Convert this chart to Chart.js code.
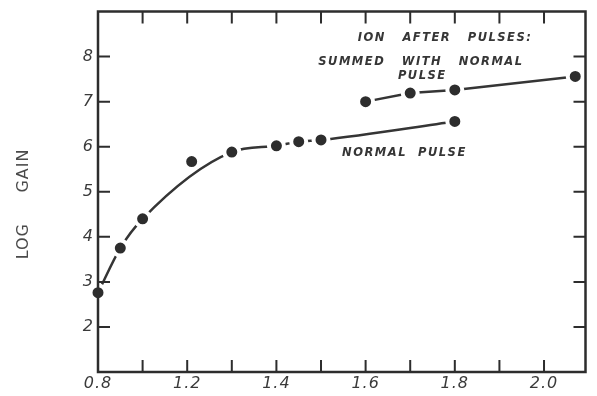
<!DOCTYPE html>
<html>
<head>
<meta charset="utf-8">
<script src="https://cdn.jsdelivr.net/npm/chart.js@4.4.0/dist/chart.umd.min.js"></script>
<style>
  html, body { margin: 0; padding: 0; background: #fff; }
  canvas { display: block; }
</style>
</head>
<body>
<canvas id="chart" width="597" height="396"></canvas>
<script>
// normal pulse (lower curve)
const normalX = [0.8, 0.9, 1.0, 1.21, 1.3, 1.4, 1.45, 1.5, 1.8];
const normalY = [2.76, 3.75, 4.40, 5.67, 5.88, 6.02, 6.11, 6.15, 6.56];
// hand-drawn curve leaves out the 1.21 point
const normalOnCurve = [true, true, true, false, true, true, true, true, true];

// ion after pulses summed with normal pulse (upper curve)
const ionX = [1.6, 1.7, 1.8, 2.07];
const ionY = [7.0, 7.19, 7.26, 7.56];

const xTickValues = [0.8, 1.0, 1.2, 1.3, 1.4, 1.5, 1.6, 1.7, 1.8, 1.9, 2.0];
const xTickLabels = ['0.8', '1.2', '1.4', '1.6', '1.8', '2.0'];
const yTickValues = [2, 3, 4, 5, 6, 7, 8];

const ink = '#2d2d2d';

// the x axis is squeezed between 0.8 and 1.2 (0.4 takes the room of 0.2)
const warp = v => v < 1.2 ? 1.0 + (v - 0.8) / 2 : v;
const unwarp = u => u < 1.2 ? 0.8 + (u - 1.0) * 2 : u;

class BrokenLinearScale extends Chart.LinearScale {
  buildTicks() {
    return xTickValues.map(v => ({ value: v }));
  }
  getPixelForValue(value) {
    const a = warp(this.min), b = warp(this.max);
    return this.getPixelForDecimal((warp(value) - a) / (b - a));
  }
  getValueForPixel(pixel) {
    const a = warp(this.min), b = warp(this.max);
    return unwarp(a + this.getDecimalForPixel(pixel) * (b - a));
  }
}
BrokenLinearScale.id = 'brokenLinear';
BrokenLinearScale.defaults = {};
Chart.register(BrokenLinearScale);

const toPoints = (xs, ys) => xs.map((x, i) => ({ x: x, y: ys[i] }));

const notes = [
  { text: 'ION   AFTER   PULSES:', x: 1.778, y: 8.41 },
  { text: 'SUMMED   WITH   NORMAL', x: 1.724, y: 7.87 },
  { text: 'PULSE', x: 1.727, y: 7.56 },
  { text: 'NORMAL  PULSE', x: 1.687, y: 5.86 }
];

const framePlugin = {
  id: 'frame',
  beforeDraw(chart) {
    chart.ctx.letterSpacing = '1px';
  },
  afterDatasetsDraw(chart) {
    const { ctx, chartArea: a, scales: { x, y } } = chart;
    ctx.save();
    ctx.strokeStyle = ink;
    ctx.lineWidth = 2.5;
    ctx.strokeRect(a.left, a.top, a.right - a.left, a.bottom - a.top);

    // inward tick marks on all four sides
    ctx.lineWidth = 2;
    const len = 12;
    ctx.beginPath();
    xTickValues.forEach(v => {
      const px = x.getPixelForValue(v);
      if (px <= a.left + 1) return;
      ctx.moveTo(px, a.bottom); ctx.lineTo(px, a.bottom - len);
      ctx.moveTo(px, a.top); ctx.lineTo(px, a.top + len);
    });
    yTickValues.forEach(v => {
      const py = y.getPixelForValue(v);
      ctx.moveTo(a.left, py); ctx.lineTo(a.left + len, py);
      ctx.moveTo(a.right, py); ctx.lineTo(a.right - len, py);
    });
    ctx.stroke();

    // lettering
    ctx.fillStyle = '#363636';
    ctx.font = 'italic bold 11.5px "DejaVu Sans"';
    ctx.letterSpacing = '1.5px';
    ctx.textAlign = 'center';
    ctx.textBaseline = 'middle';
    notes.forEach(n => {
      ctx.fillText(n.text, x.getPixelForValue(n.x), y.getPixelForValue(n.y));
    });
    ctx.restore();
  }
};

Chart.defaults.font.family = '"DejaVu Sans"';
Chart.defaults.color = ink;

new Chart(document.getElementById('chart'), {
  type: 'line',
  data: {
    datasets: [
      {
        label: 'points',
        type: 'scatter',
        data: toPoints(normalX, normalY).concat(toPoints(ionX, ionY)),
        showLine: false,
        pointRadius: 7.5,
        pointBorderWidth: 4,
        pointBackgroundColor: ink,
        pointBorderColor: '#ffffff',
        clip: false,
        order: 0
      },
      {
        label: 'Normal pulse',
        data: toPoints(normalX, normalY.map((v, i) => normalOnCurve[i] ? v : null)),
        spanGaps: true,
        borderColor: '#353535',
        borderWidth: 2.5,
        cubicInterpolationMode: 'monotone',
        pointRadius: 0,
        clip: false,
        order: 1
      },
      {
        label: 'Ion after pulses',
        data: toPoints(ionX, ionY),
        borderColor: '#353535',
        borderWidth: 2.5,
        tension: 0,
        pointRadius: 0,
        clip: false,
        order: 1
      }
    ]
  },
  options: {
    responsive: false,
    animation: false,
    layout: { padding: { top: 6, right: 7, left: 0, bottom: 0 } },
    plugins: { legend: { display: false }, tooltip: { enabled: false } },
    scales: {
      x: {
        type: 'brokenLinear',
        min: 0.8,
        max: 2.093,
        grid: { display: false, drawTicks: false },
        border: { display: false },
        ticks: {
          autoSkip: false,
          maxRotation: 0,
          padding: 2,
          font: { size: 16, style: 'italic' },
          color: '#3a3a3a',
          callback: v => {
            const s = v.toFixed(1);
            return xTickLabels.includes(s) ? s : '';
          }
        },
        afterFit: s => {
          s.height = 24;
          s.paddingLeft = 0;
          s.paddingRight = 0;
        }
      },
      y: {
        min: 1,
        max: 9,
        grid: { display: false, drawTicks: false },
        border: { display: false },
        ticks: {
          stepSize: 1,
          padding: 4,
          font: { size: 16, style: 'italic' },
          color: '#3a3a3a',
          callback: v => yTickValues.includes(v) ? String(v) : ''
        },
        title: {
          display: true,
          text: 'LOG     GAIN    ',
          color: '#4a4a4a',
          font: { size: 16 },
          padding: { top: 14, bottom: 0 }
        },
        afterFit: s => {
          s.width = 98;
          s.paddingTop = 0;
          s.paddingBottom = 0;
        }
      }
    }
  },
  plugins: [framePlugin]
});
</script>
</body>
</html>
